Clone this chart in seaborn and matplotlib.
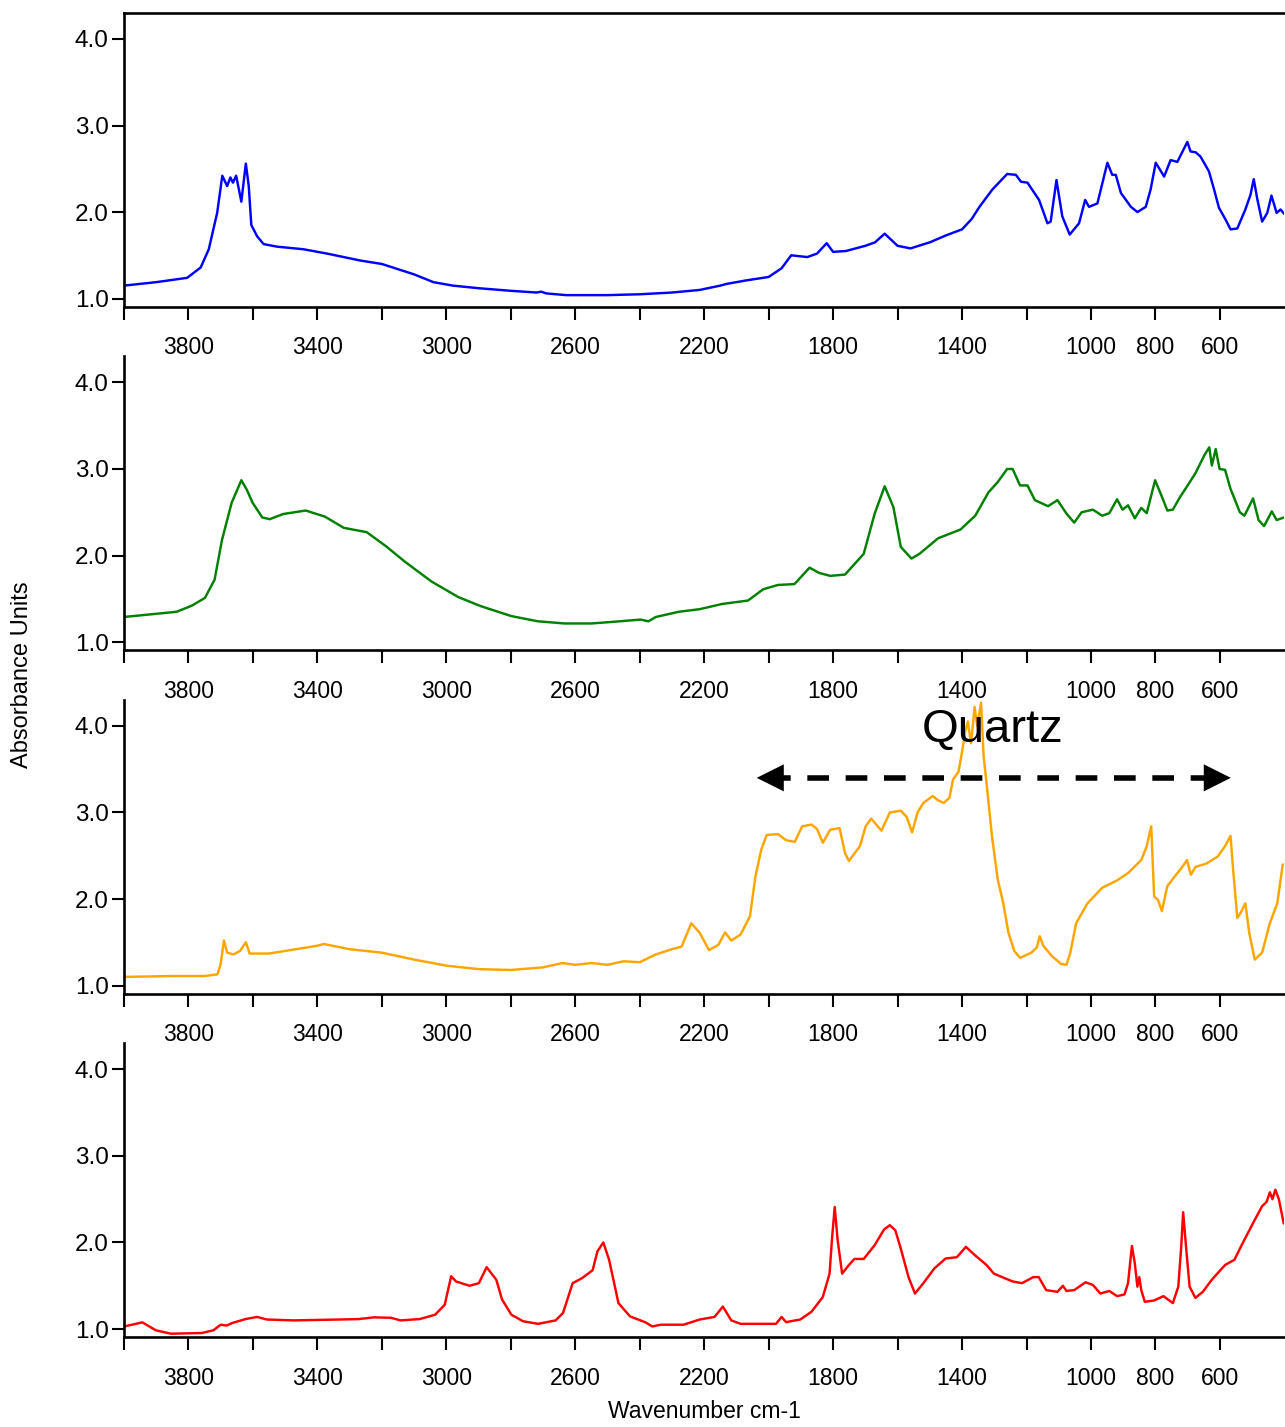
import numpy as np
import pandas as pd
import matplotlib
matplotlib.use("Agg")
import matplotlib.pyplot as plt
import seaborn as sns

# ---------------- data ----------------
blue_wn = [4000, 3900, 3804, 3762, 3737, 3711, 3695, 3680, 3670, 3662, 3652, 3636, 3622, 3613, 3605,
           3587, 3567, 3525, 3443, 3370, 3267, 3200, 3100, 3040, 2980, 2900, 2800, 2720, 2706, 2690,
           2628, 2500, 2400, 2300, 2214, 2150, 2130, 2070, 2000, 1960, 1930, 1880, 1850, 1820, 1800,
           1760, 1700, 1670, 1640, 1600, 1560, 1500, 1450, 1400, 1370, 1346, 1306, 1260, 1233, 1217,
           1197, 1161, 1135, 1125, 1107, 1089, 1066, 1037, 1018, 1006, 980, 949, 934, 923, 907,
           876, 856, 830, 815, 799, 773, 753, 732, 701, 691, 675, 660, 634, 618, 603,
           582, 567, 546, 521, 505, 495, 484, 469, 453, 440, 424, 412, 401]
blue_abs = [1.15, 1.19, 1.24, 1.36, 1.57, 1.99, 2.42, 2.30, 2.40, 2.34, 2.42, 2.12, 2.56, 2.30, 1.85,
            1.72, 1.63, 1.60, 1.57, 1.52, 1.44, 1.40, 1.28, 1.19, 1.15, 1.12, 1.09, 1.07, 1.08, 1.06,
            1.04, 1.04, 1.05, 1.07, 1.10, 1.15, 1.17, 1.21, 1.25, 1.35, 1.50, 1.48, 1.52, 1.64, 1.54,
            1.55, 1.61, 1.65, 1.75, 1.61, 1.58, 1.65, 1.73, 1.80, 1.92, 2.06, 2.26, 2.44, 2.43, 2.35,
            2.34, 2.14, 1.87, 1.89, 2.37, 1.95, 1.74, 1.87, 2.14, 2.06, 2.10, 2.57, 2.43, 2.43, 2.22,
            2.06, 2.00, 2.06, 2.26, 2.57, 2.41, 2.60, 2.58, 2.81, 2.70, 2.69, 2.64, 2.47, 2.26, 2.05,
            1.91, 1.80, 1.81, 2.03, 2.20, 2.38, 2.15, 1.89, 1.99, 2.19, 1.99, 2.03, 1.98]

green_wn = [4000, 3837, 3790, 3749, 3719, 3696, 3666, 3636, 3619, 3601, 3571, 3548, 3506, 3436, 3377,
            3318, 3247, 3188, 3129, 3046, 2963, 2893, 2798, 2716, 2633, 2550, 2479, 2397, 2373, 2350,
            2279, 2214, 2145, 2064, 2017, 1971, 1920, 1873, 1844, 1809, 1763, 1705, 1671, 1640, 1613,
            1590, 1557, 1532, 1474, 1405, 1359, 1318, 1289, 1260, 1243, 1220, 1197, 1174, 1133, 1104,
            1076, 1052, 1029, 994, 965, 943, 919, 902, 885, 864, 844, 827, 801, 780, 763,
            746, 723, 700, 676, 648, 633, 625, 613, 601, 584, 567, 538, 524, 497, 480,
            463, 439, 424, 401]
green_abs = [1.29, 1.35, 1.42, 1.51, 1.72, 2.18, 2.61, 2.87, 2.76, 2.61, 2.44, 2.42, 2.48, 2.52, 2.45,
             2.32, 2.27, 2.11, 1.93, 1.70, 1.52, 1.415, 1.30, 1.24, 1.215, 1.215, 1.235, 1.26, 1.24, 1.29,
             1.35, 1.38, 1.44, 1.48, 1.61, 1.66, 1.67, 1.86, 1.80, 1.765, 1.78, 2.02, 2.485, 2.80, 2.56,
             2.10, 1.965, 2.02, 2.20, 2.30, 2.46, 2.73, 2.85, 3.00, 3.00, 2.81, 2.81, 2.64, 2.57, 2.64,
             2.485, 2.38, 2.50, 2.53, 2.46, 2.49, 2.65, 2.53, 2.58, 2.43, 2.55, 2.49, 2.87, 2.68, 2.52,
             2.53, 2.68, 2.81, 2.95, 3.16, 3.25, 3.04, 3.23, 3.00, 2.99, 2.77, 2.50, 2.46, 2.66, 2.41,
             2.34, 2.51, 2.41, 2.44]

orange_wn = [4000, 3850, 3750, 3710, 3700, 3690, 3680, 3660, 3640, 3622, 3610, 3550, 3500, 3400, 3380,
             3300, 3200, 3100, 3000, 2900, 2800, 2700, 2640, 2600, 2550, 2500, 2450, 2400, 2350, 2300,
             2270, 2240, 2214, 2185, 2156, 2135, 2116, 2087, 2058, 2041, 2023, 2006, 1971, 1946, 1919,
             1896, 1867, 1850, 1832, 1809, 1780, 1763, 1751, 1717, 1699, 1682, 1650, 1624, 1590, 1572,
             1555, 1538, 1520, 1491, 1474, 1457, 1439, 1428, 1411, 1399, 1391, 1382, 1372, 1361, 1353,
             1341, 1333, 1324, 1307, 1289, 1272, 1256, 1238, 1220, 1185, 1168, 1159, 1148, 1121, 1093,
             1076, 1064, 1046, 1011, 965, 919, 885, 844, 827, 813, 804, 792, 780, 763, 740,
             717, 702, 690, 676, 642, 607, 584, 567, 559, 546, 536, 521, 509, 492, 469,
             445, 422, 405]
orange_abs = [1.10, 1.11, 1.11, 1.13, 1.25, 1.52, 1.38, 1.36, 1.40, 1.50, 1.37, 1.37, 1.40, 1.46, 1.48,
              1.42, 1.38, 1.30, 1.23, 1.19, 1.18, 1.21, 1.26, 1.24, 1.26, 1.24, 1.28, 1.27, 1.36, 1.42,
              1.45, 1.72, 1.61, 1.41, 1.47, 1.615, 1.52, 1.59, 1.80, 2.26, 2.57, 2.74, 2.75, 2.68, 2.66,
              2.84, 2.86, 2.81, 2.65, 2.80, 2.82, 2.53, 2.44, 2.61, 2.84, 2.93, 2.79, 3.00, 3.02, 2.95,
              2.77, 3.00, 3.11, 3.19, 3.14, 3.11, 3.17, 3.38, 3.47, 3.72, 3.92, 4.05, 3.80, 4.22, 4.00,
              4.27, 3.65, 3.34, 2.72, 2.22, 1.95, 1.61, 1.40, 1.32, 1.38, 1.44, 1.57, 1.46, 1.34, 1.25,
              1.24, 1.38, 1.72, 1.95, 2.13, 2.215, 2.30, 2.45, 2.61, 2.84, 2.03, 1.99, 1.86, 2.15, 2.26,
              2.37, 2.45, 2.28, 2.37, 2.41, 2.49, 2.61, 2.73, 2.34, 1.78, 1.84, 1.95, 1.61, 1.30, 1.38,
              1.72, 1.95, 2.40]

red_wn = [4000, 3943, 3901, 3854, 3759, 3723, 3700, 3682, 3664, 3623, 3587, 3557, 3474, 3332, 3272,
          3225, 3172, 3142, 3083, 3035, 3005, 2985, 2970, 2928, 2899, 2875, 2845, 2827, 2798, 2762,
          2715, 2661, 2638, 2608, 2578, 2546, 2531, 2513, 2495, 2466, 2430, 2382, 2361, 2335, 2264,
          2214, 2168, 2142, 2116, 2087, 1977, 1960, 1946, 1902, 1867, 1832, 1811, 1803, 1795, 1786,
          1772, 1751, 1734, 1705, 1671, 1642, 1624, 1607, 1590, 1566, 1546, 1520, 1486, 1451, 1416,
          1388, 1359, 1324, 1301, 1266, 1243, 1214, 1179, 1162, 1139, 1104, 1087, 1076, 1052, 1017,
          994, 971, 943, 919, 896, 885, 873, 864, 856, 850, 844, 833, 804, 775, 746,
          729, 720, 714, 705, 694, 676, 653, 625, 584, 555, 527, 492, 469, 455, 445,
          437, 428, 417, 402]
red_abs = [1.03, 1.077, 0.985, 0.946, 0.954, 0.985, 1.05, 1.04, 1.07, 1.115, 1.14, 1.11, 1.10, 1.11, 1.115,
           1.135, 1.13, 1.10, 1.115, 1.165, 1.28, 1.61, 1.55, 1.50, 1.53, 1.715, 1.57, 1.34, 1.165, 1.09,
           1.06, 1.10, 1.185, 1.53, 1.59, 1.68, 1.90, 2.00, 1.80, 1.30, 1.146, 1.077, 1.03, 1.05, 1.05,
           1.11, 1.14, 1.26, 1.10, 1.06, 1.06, 1.14, 1.08, 1.11, 1.20, 1.37, 1.64, 2.065, 2.41, 2.03,
           1.64, 1.74, 1.81, 1.81, 1.97, 2.15, 2.20, 2.14, 1.93, 1.60, 1.41, 1.53, 1.70, 1.815, 1.83,
           1.95, 1.85, 1.74, 1.64, 1.585, 1.55, 1.53, 1.60, 1.60, 1.45, 1.43, 1.50, 1.44, 1.45, 1.54,
           1.51, 1.41, 1.44, 1.38, 1.40, 1.53, 1.96, 1.76, 1.49, 1.60, 1.45, 1.315, 1.33, 1.38, 1.30,
           1.49, 1.95, 2.35, 1.95, 1.49, 1.36, 1.43, 1.57, 1.74, 1.80, 2.01, 2.26, 2.42, 2.47, 2.58,
           2.50, 2.61, 2.50, 2.22]

series_colors = ["#0000ff", "#008000", "#ffa500", "#ff0000"]
ytick_values = [1.0, 2.0, 3.0, 4.0]
ytick_labels = ["1.0", "2.0", "3.0", "4.0"]
xtick_positions = list(range(4000, 599, -200))
xtick_labeled = [3800, 3400, 3000, 2600, 2200, 1800, 1400, 1000, 800, 600]
y_label = "Absorbance Units"
x_label = "Wavenumber cm-1"
annotation_text = "Quartz"

spectra = [(blue_wn, blue_abs), (green_wn, green_abs), (orange_wn, orange_abs), (red_wn, red_abs)]
for w, a in spectra:
    assert len(w) == len(a), (len(w), len(a))

# ---------------- figure ----------------
sns.set_theme(style="ticks")
plt.rcParams["font.family"] = ["Liberation Sans", "DejaVu Sans"]

W, H = 1285, 1427
fig, axes = plt.subplots(4, 1, figsize=(W / 100, H / 100), dpi=100)
fig.patch.set_facecolor("white")
fig.subplots_adjust(left=124 / W, right=0.9995, top=1 - 13 / H, bottom=1 - 1337 / H,
                    hspace=50 / 294)

for i, (ax, (w, a), c) in enumerate(zip(axes, spectra, series_colors)):
    df = pd.DataFrame({"wn": w, "abs": a})
    sns.lineplot(data=df, x="wn", y="abs", ax=ax, color=c, lw=1.75,
                 estimator=None, sort=False)
    ax.set_xlim(4000, 400)
    ax.set_ylim(0.908, 4.30)
    ax.set_yticks(ytick_values)
    ax.set_yticklabels(ytick_labels)
    ax.set_xticks(xtick_positions)
    ax.set_xticklabels([str(t) if t in xtick_labeled else "" for t in xtick_positions])
    ax.set_xlabel("")
    ax.set_ylabel("")
    ax.set_facecolor("white")
    for s in ["left", "bottom", "top", "right"]:
        ax.spines[s].set_linewidth(1.9)
        ax.spines[s].set_color("black")
    ax.spines["right"].set_visible(False)
    ax.spines["top"].set_visible(i == 0)
    ax.tick_params(axis="x", direction="out", length=9, width=1.5, labelsize=16.5,
                   pad=12.5, colors="black")
    ax.tick_params(axis="y", direction="out", length=9, width=1.5, labelsize=17.5,
                   pad=2, colors="black")

# Quartz annotation on the third panel
ax3 = axes[2]
ax3.text(1306, 3.95, annotation_text, ha="center", va="center", fontsize=34, color="black")
ax3.plot([2000, 600], [3.40, 3.40], color="black", lw=4.0, ls=(0, (3.9, 3.0)),
         solid_capstyle="butt", dash_capstyle="butt")
for tip, base in [(2037, 1950), (566, 653)]:
    ax3.annotate("", xy=(tip, 3.40), xytext=(base, 3.40),
                 arrowprops=dict(arrowstyle="-|>,head_length=1.0,head_width=0.5",
                                 mutation_scale=19.5, lw=0, color="black",
                                 shrinkA=0, shrinkB=0))

fig.text(22 / W, 1 - 675 / H, y_label, rotation=90, ha="center", va="center",
         fontsize=17, color="black")
fig.text(704 / W, 1 - 1412 / H, x_label, ha="center", va="center",
         fontsize=16.5, color="black")

fig.savefig("out.png", dpi=100, facecolor="white")
